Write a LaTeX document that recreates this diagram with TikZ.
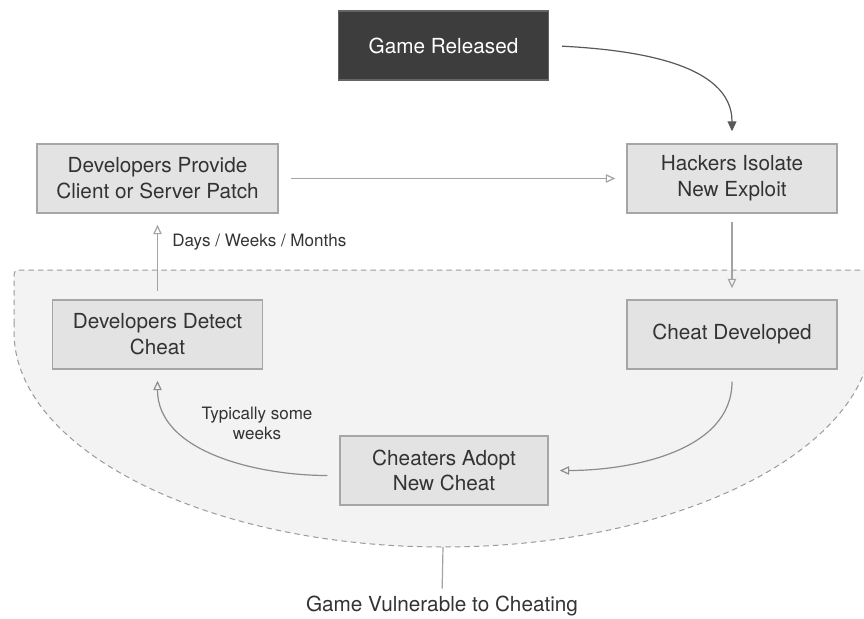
\documentclass[tikz,border=0pt]{standalone}
\usepackage{fontspec}
\setmainfont{TeX Gyre Heros}
\usetikzlibrary{arrows.meta}

\definecolor{boxfill}{HTML}{E3E3E3}
\definecolor{boxline}{HTML}{A6A6A6}
\definecolor{darkfill}{HTML}{3D3D3D}
\definecolor{zonefill}{HTML}{F3F3F3}
\definecolor{zoneline}{HTML}{9A9A9A}
\definecolor{linkcol}{HTML}{A3A3A3}
\definecolor{txtcol}{HTML}{333333}

\begin{document}
\begin{tikzpicture}[x=0.02cm, y=0.02cm,
    box/.style = {rectangle, draw=boxline, line width=0.3mm, fill=boxfill, text=txtcol,
                  minimum width=42mm, minimum height=13.8mm, inner sep=0pt, align=center,
                  font=\fontsize{11.8}{14.7}\selectfont},
    darkbox/.style = {box, fill=darkfill, draw=darkfill!80!white, text=white},
    note/.style = {text=txtcol, inner sep=0pt, font=\fontsize{9.7}{11.3}\selectfont},
    flow/.style = {linkcol, line width=0.24mm, -{Triangle[open, length=1.9mm, width=1.7mm]},
                   shorten <=2.4mm, shorten >=2.2mm},
    zone/.style = {zoneline, fill=zonefill, line width=0.2mm, dash pattern=on 1.1mm off 0.8mm,
                   rounded corners=0.8mm}]

        \useasboundingbox (0,0) rectangle (864,-618);
        \clip (0,0) rectangle (864,-618);

        \draw [zone] (14,-328) -- (14,-270) -- (872,-270) -- (872,-328)
            arc [start angle=0, end angle=-180, x radius=429, y radius=219] -- cycle;
        \coordinate (zonebottom) at (443,-547);

        \node [darkbox] (released) at (443.5,-45.5) {Game Released};
        \node [box, minimum width=48.2mm] (patch) at (157.5,-178.5) {Developers Provide\\Client or Server Patch};
        \node [box] (exploit) at (732,-178.5) {Hackers Isolate\\New Exploit};
        \node [box] (detect) at (157.5,-334.5) {Developers Detect\\Cheat};
        \node [box] (cheat) at (732,-334.5) {Cheat Developed};
        \node [box, minimum width=41.6mm] (adopt) at (444,-470.5) {Cheaters Adopt\\New Cheat};

        \node [note, anchor=west] (days) at (172,-242) {Days / Weeks / Months};
        \node [note, align=center] (weeks) at (257,-423) {Typically some\\weeks};
        \node [note, font=\fontsize{11.8}{14}\selectfont] (vulnerable) at (442,-606) {Game Vulnerable to Cheating};

        \draw [line width=0.24mm, black!65, -{Triangle[length=2mm, width=1.8mm]},
               shorten <=2.6mm, shorten >=2.4mm] (released.east) to [out=-3, in=90] (exploit.north);
        \draw [flow] (patch) -- (exploit);
        \draw [flow, shorten <=1.6mm] (exploit) -- (cheat);
        \draw [flow, black!45] (cheat.south) to [out=-90, in=0] (adopt.east);
        \draw [flow, black!45] ([yshift=-1mm]adopt.west) to [out=180, in=-90] (detect.south);
        \draw [flow, shorten <=1.6mm] (detect) -- (patch);
        \draw [linkcol, line width=0.24mm, shorten >=1.4mm] (zonebottom) -- (vulnerable.north);
        \end{tikzpicture}
\end{document}
